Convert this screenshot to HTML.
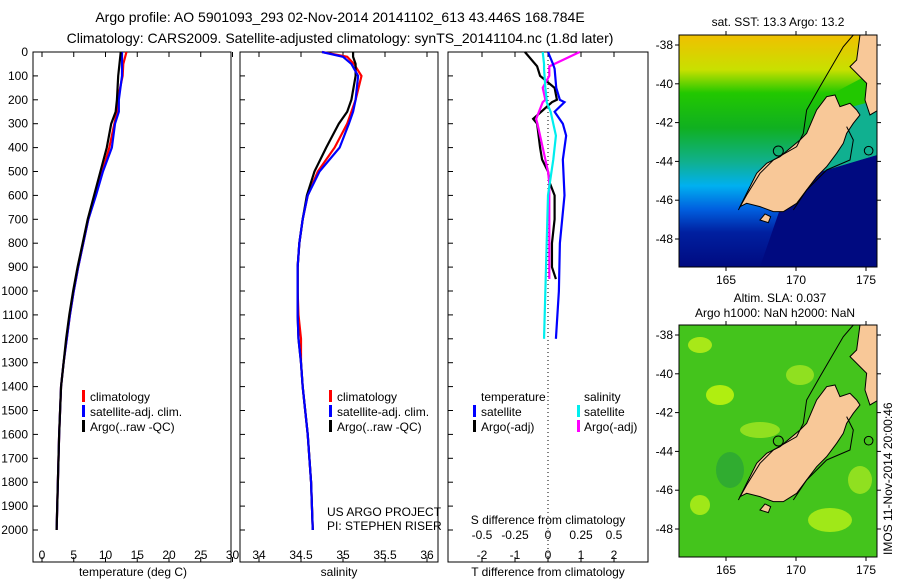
<!DOCTYPE html>
<html><head><meta charset="utf-8">
<style>
html,body{margin:0;padding:0;background:#fff;}
svg{display:block;font-family:"Liberation Sans",sans-serif;}
text{fill:#000;}
</style></head>
<body>
<svg id="chart" width="900" height="580" viewBox="0 0 900 580" xmlns="http://www.w3.org/2000/svg">
<text x="340" y="22" font-size="14" text-anchor="middle">Argo profile: AO 5901093_293 02-Nov-2014 20141102_613 43.446S 168.784E</text>
<text x="340" y="43" font-size="14" text-anchor="middle">Climatology: CARS2009. Satellite-adjusted climatology: synTS_20141104.nc (1.8d later)</text>

<rect x="33" y="52" width="198" height="510" fill="none" stroke="#000"/>
<rect x="240" y="52" width="198" height="510" fill="none" stroke="#000"/>
<rect x="448" y="52" width="200" height="510" fill="none" stroke="#000"/>
<g id="yaxis"></g>
<g id="p1"></g>
<g id="p2"></g>
<g id="p3"></g>

<text x="133" y="576" font-size="12" text-anchor="middle">temperature (deg C)</text>
<text x="339" y="576" font-size="12" text-anchor="middle">salinity</text>
<text x="548" y="576" font-size="12" text-anchor="middle">T difference from climatology</text>
<text x="548" y="524" font-size="12" text-anchor="middle">S difference from climatology</text>

<g font-size="12">
<rect x="82" y="390" width="3" height="12" fill="#f00"/><text x="90" y="401">climatology</text>
<rect x="82" y="405" width="3" height="12" fill="#00f"/><text x="90" y="416">satellite-adj. clim.</text>
<rect x="82" y="420" width="3" height="12" fill="#000"/><text x="90" y="431">Argo(..raw -QC)</text>
</g>
<g font-size="12">
<rect x="329" y="390" width="3" height="12" fill="#f00"/><text x="337" y="401">climatology</text>
<rect x="329" y="405" width="3" height="12" fill="#00f"/><text x="337" y="416">satellite-adj. clim.</text>
<rect x="329" y="420" width="3" height="12" fill="#000"/><text x="337" y="431">Argo(..raw -QC)</text>
</g>
<g font-size="12">
<text x="481" y="401">temperature</text><text x="584" y="401">salinity</text>
<rect x="473" y="405" width="3" height="12" fill="#00f"/><text x="481" y="416">satellite</text>
<rect x="473" y="420" width="3" height="12" fill="#000"/><text x="481" y="431">Argo(-adj)</text>
<rect x="577" y="405" width="3" height="12" fill="#0ee"/><text x="584" y="416">satellite</text>
<rect x="577" y="420" width="3" height="12" fill="#f0f"/><text x="584" y="431">Argo(-adj)</text>
</g>
<text x="327" y="516" font-size="12">US ARGO PROJECT</text>
<text x="327" y="530" font-size="12">PI: STEPHEN RISER</text>

<defs>
<clipPath id="c1"><rect x="679" y="35" width="198" height="232"/></clipPath>
<clipPath id="c2"><rect x="679" y="325" width="198" height="232"/></clipPath>
<linearGradient id="sst" x1="0" y1="0" x2="0" y2="1">
<stop offset="0" stop-color="#f0c000"/><stop offset="0.15" stop-color="#c8e000"/>
<stop offset="0.25" stop-color="#22c800"/><stop offset="0.4" stop-color="#10b020"/>
<stop offset="0.55" stop-color="#10b090"/><stop offset="0.65" stop-color="#00b0f0"/>
<stop offset="0.75" stop-color="#0060e0"/><stop offset="0.85" stop-color="#0020a0"/>
<stop offset="1" stop-color="#000a80"/></linearGradient>
<g id="land">
<path d="M300,620 L330,560 L350,520 L380,490 L420,470 L480,420 L500,400 L530,330 L560,290 L585,285 L600,320 L630,310 L650,330 L660,345 L640,370 L620,400 L610,430 L590,460 L560,500 L530,530 L500,570 L470,610 L430,635 L400,635 L360,620 L320,610 Z" fill="#f8c898" stroke="#000" stroke-width="3"/>
<path d="M630,200 L650,180 L660,105 L715,105 L715,330 L690,345 L675,300 L680,250 Z" fill="#f8c898" stroke="#000" stroke-width="3"/>
<path d="M360,660 L375,642 L392,650 L385,668 Z" fill="#f8c898" stroke="#000" stroke-width="3"/>
<circle cx="415" cy="453" r="15" fill="none" stroke="#000" stroke-width="3"/>
<circle cx="686" cy="452" r="13" fill="none" stroke="#000" stroke-width="3"/>
<path d="M295,630 L320,585 L360,520 L400,480 L470,440 L490,400 L500,330 L540,260 L575,200 L610,140 L640,105" fill="none" stroke="#000" stroke-width="3"/>
<path d="M460,630 L500,570 L560,510 L630,480 L640,420 L620,380" fill="none" stroke="#000" stroke-width="3"/>
</g>
</defs>
<g clip-path="url(#c1)">
<rect x="679" y="35" width="198" height="232" fill="url(#sst)"/>
<path d="M790,180 L877,155 L877,267 L760,267 Z" fill="#000a80"/>
<path d="M820,120 L860,95 L877,100 L877,155 L820,172 Z" fill="#10b090"/>
<path d="M830,95 L877,70 L877,100 L840,110 Z" fill="#22c800"/>
<g transform="translate(640,0) scale(0.3333)"><use href="#land"/></g>
</g>
<rect x="679" y="35" width="198" height="232" fill="none" stroke="#000"/>
<g clip-path="url(#c2)">
<rect x="679" y="325" width="198" height="232" fill="#44c41c"/>
<ellipse cx="700" cy="345" rx="12" ry="8" fill="#a8e818"/>
<ellipse cx="720" cy="395" rx="14" ry="10" fill="#b0ee10"/>
<ellipse cx="760" cy="430" rx="20" ry="8" fill="#90e020"/>
<ellipse cx="800" cy="375" rx="14" ry="10" fill="#90e020"/>
<ellipse cx="830" cy="520" rx="22" ry="12" fill="#a0e818"/>
<ellipse cx="700" cy="505" rx="10" ry="10" fill="#a0e818"/>
<ellipse cx="730" cy="470" rx="14" ry="18" fill="#30ac30"/>
<ellipse cx="860" cy="480" rx="12" ry="14" fill="#90e020"/>
<g transform="translate(640,290) scale(0.3333)"><use href="#land"/></g>
</g>
<rect x="679" y="325" width="198" height="232" fill="none" stroke="#000"/>
<text x="778" y="26" font-size="12" text-anchor="middle">sat. SST: 13.3 Argo: 13.2</text>
<text x="780" y="302" font-size="12" text-anchor="middle">Altim. SLA: 0.037</text>
<text x="775" y="317" font-size="12" text-anchor="middle">Argo h1000: NaN h2000: NaN</text>
<text transform="translate(892,555) rotate(-90)" font-size="12">IMOS 11-Nov-2014 20:00:46</text>
<g id="maxes"></g>
</svg>
<script>
const depthTicks=[0,100,200,300,400,500,600,700,800,900,1000,1100,1200,1300,1400,1500,1600,1700,1800,1900,2000];
const tempTicks=[0,5,10,15,20,25,30];
const salTicks=[34,34.5,35,35.5,36];
const tdTicks=[-2,-1,0,1,2];
const sdTicks=[-0.5,-0.25,0,0.25,0.5];
const lonTicks=[165,170,175];
const latTicks=[-38,-40,-42,-44,-46,-48];

const tDepth=[0,50,100,200,250,300,400,500,600,700,800,900,1000,1100,1200,1300,1400,1500,1600,1700,1800,1900,2000];
const tArgo=[12.4,12.2,12.0,11.8,11.6,10.9,10.2,9.2,8.2,7.2,6.4,5.6,4.9,4.3,3.8,3.4,3.0,2.85,2.7,2.6,2.5,2.4,2.3];
const tClim=[13.3,12.8,12.7,11.9,11.8,11.4,10.6,9.5,8.4,7.3,6.5,5.7,5.0,4.4,3.9,3.4,3.0,2.85,2.7,2.6,2.5,2.4,2.3];
const tSat=[12.6,12.6,12.6,12.1,12.1,11.5,11.0,9.6,8.5,7.3,6.5,5.7,5.0,4.4,3.9,3.4,3.0,2.85,2.7,2.6,2.5,2.4,2.3];
const sDepth=[0,20,50,100,200,250,300,400,500,600,700,800,900,1000,1100,1200,1300,1400,1500,1600,1700,1800,1900,2000];
const sArgo=[35.12,35.12,35.15,35.15,35.1,35.05,34.95,34.8,34.66,34.57,34.52,34.48,34.46,34.46,34.46,34.47,34.5,34.52,34.55,34.58,34.6,34.62,34.63,34.64];
const sClim=[34.75,35.05,35.13,35.22,35.15,35.1,35.05,34.9,34.7,34.58,34.52,34.48,34.46,34.46,34.47,34.5,34.5,34.52,34.55,34.58,34.6,34.62,34.63,34.64];
const sSat=[34.75,35.0,35.1,35.18,35.15,35.12,35.07,34.96,34.72,34.58,34.52,34.48,34.46,34.46,34.46,34.47,34.5,34.52,34.55,34.58,34.6,34.62,34.63,34.64];
const dDepthSat=[0,50,70,150,200,210,250,300,350,450,600,800,1000,1200];
const dTSat=[0,0.15,0.2,0.25,0.36,0.5,0.2,0.45,0.55,0.45,0.5,0.36,0.33,0.24];
const dSSat=[-0.04,-0.03,-0.03,-0.02,-0.01,-0.01,0.02,0.04,0.06,0.04,0.0,-0.01,-0.02,-0.03];
const dDepthArgo=[0,60,100,150,200,210,280,300,400,450,500,550,600,700,800,900,950];
const dTArgo=[-0.7,-0.33,-0.24,0.2,0.27,0.12,-0.45,-0.33,-0.24,-0.18,0,0.06,0.2,0.2,0.12,0.12,0.24];
const dSArgo=[0.24,0.01,0.01,-0.04,-0.02,-0.04,-0.09,-0.08,-0.04,-0.02,0,0.01,0.01,0.01,0.01,0.01,0.01];

const NS='http://www.w3.org/2000/svg';
function mk(tag,attrs,parent){const e=document.createElementNS(NS,tag);for(const k in attrs)e.setAttribute(k,attrs[k]);parent.appendChild(e);return e;}
const yD=d=>52+d*0.239;
const xT=v=>42+v*6.35;
const xS=v=>259+(v-34)*84;
const xTD=v=>548+v*33;
const xSD=v=>548+v*132;
const xLon=v=>726+(v-165)*14;
const yLat1=v=>45+(-38-v)*19.4;

const ya=document.getElementById('yaxis');
depthTicks.forEach(d=>{
  const t=mk('text',{x:28,y:yD(d)+4,'font-size':12,'text-anchor':'end'},ya);t.textContent=d;
  
  
  [33,240,448].forEach(x0=>{const l=mk('line',{x1:x0,x2:x0+5,y1:yD(d),y2:yD(d),stroke:'#000'},ya);
    
    });
});
function xticks(g,ticks,fx,y,labels){
  ticks.forEach((v,i)=>{
    mk('line',{x1:fx(v),x2:fx(v),y1:52,y2:57,stroke:'#000'},g);
    mk('line',{x1:fx(v),x2:fx(v),y1:562,y2:557,stroke:'#000'},g);
    if(labels){const t=mk('text',{x:fx(v),y:y,'font-size':12,'text-anchor':'middle'},g);t.textContent=labels[i];
      
      }
  });
}
function line(g,xs,ds,fx,color,name){
  const p=mk('polyline',{points:xs.map((v,i)=>fx(v)+','+yD(ds[i])).join(' '),fill:'none',stroke:color,'stroke-width':2.2},g);
  
  
}
const p1=document.getElementById('p1'),p2=document.getElementById('p2'),p3=document.getElementById('p3');
xticks(p1,tempTicks,xT,559,tempTicks);
line(p1,tClim,tDepth,xT,'#f00','temp-climatology-line');
line(p1,tSat,tDepth,xT,'#00f','temp-satellite-line');
line(p1,tArgo,tDepth,xT,'#000','temp-argo-line');
xticks(p2,salTicks,xS,559,salTicks);
line(p2,sClim,sDepth,xS,'#f00','sal-climatology-line');
line(p2,sArgo,sDepth,xS,'#000','sal-argo-line');
line(p2,sSat,sDepth,xS,'#00f','sal-satellite-line');
xticks(p3,tdTicks,xTD,559,tdTicks);
sdTicks.forEach(v=>{const t=mk('text',{x:xSD(v),y:539,'font-size':12,'text-anchor':'middle'},p3);t.textContent=v;
  
  });
const z=mk('line',{x1:548,x2:548,y1:52,y2:562,stroke:'#000','stroke-dasharray':'1,3'},p3);


line(p3,dTArgo,dDepthArgo,xTD,'#000','t-diff-argo-line');
line(p3,dSArgo,dDepthArgo,xSD,'#f0f','s-diff-argo-line');
line(p3,dTSat,dDepthSat,xTD,'#00f','t-diff-satellite-line');
line(p3,dSSat,dDepthSat,xSD,'#0ee','s-diff-satellite-line');

const ma=document.getElementById('maxes');
[[0,35,267,280],[290,325,557,570]].forEach(([off,top,bot,ly])=>{
  lonTicks.forEach(v=>{
    mk('line',{x1:xLon(v),x2:xLon(v),y1:top,y2:top-4,stroke:'#000'},ma);
    mk('line',{x1:xLon(v),x2:xLon(v),y1:bot,y2:bot+4,stroke:'#000'},ma);
    const t=mk('text',{x:xLon(v),y:ly+4,'font-size':12,'text-anchor':'middle'},ma);t.textContent=v;
    
    
  });
  latTicks.forEach(v=>{
    const y=yLat1(v)+off;
    mk('line',{x1:679,x2:675,y1:y,y2:y,stroke:'#000'},ma);
    mk('line',{x1:877,x2:881,y1:y,y2:y,stroke:'#000'},ma);
    const t=mk('text',{x:673,y:y+4,'font-size':12,'text-anchor':'end'},ma);t.textContent=v;
    
    
  });
});
</script>
</body></html>
